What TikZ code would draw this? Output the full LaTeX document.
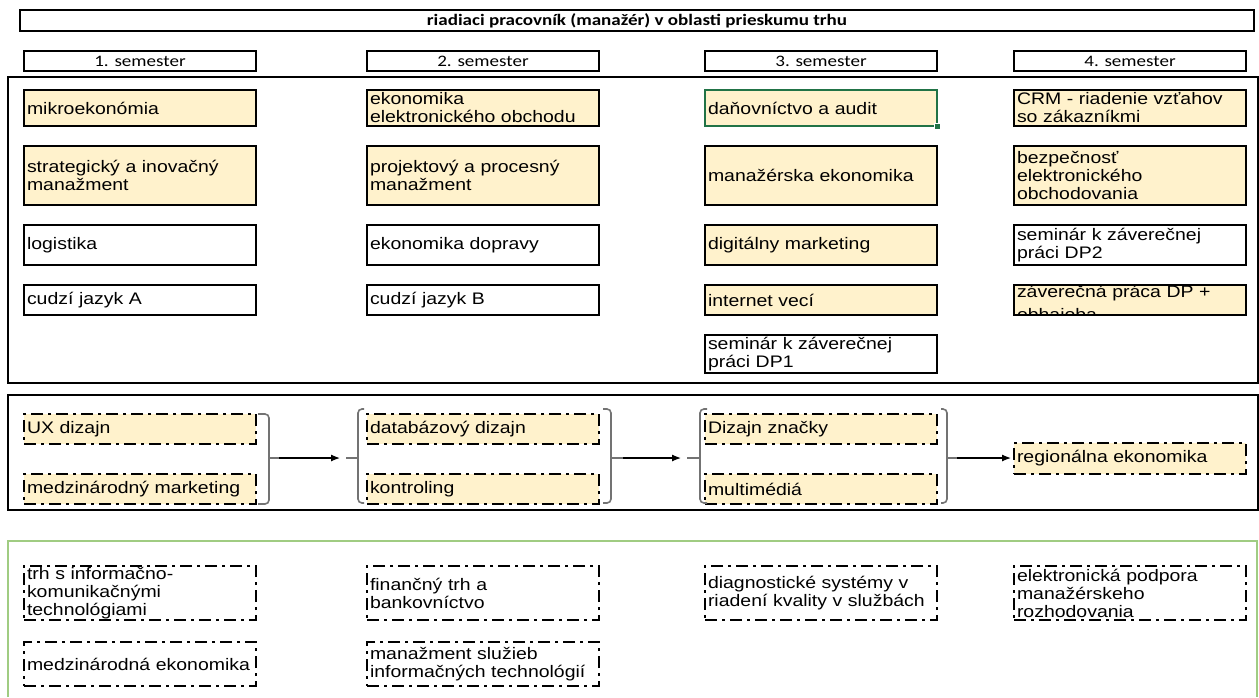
\documentclass[tikz,border=0pt]{standalone}
\usepackage{fontspec}
\setmainfont{Liberation Sans}[FakeStretch=1.165]
\newfontfamily\calibri{Carlito}[FakeStretch=1.19]
\usepackage{tikz}
\usepackage{xcolor}
\usetikzlibrary{positioning,arrows.meta}
\definecolor{bunka}{RGB}{255,242,204}
\definecolor{zelena}{RGB}{160,204,130}
\definecolor{vyber}{RGB}{33,115,70}

\begin{document}
\begin{tikzpicture}[x=0.5pt, y=-0.5pt, node distance=10pt,
		predmet/.style={rectangle, draw, line width=0.7pt, fill=bunka, anchor=north west, outer sep=0pt, minimum width=116pt, text width=113pt, inner xsep=1.5pt, inner ysep=0pt, align=left, font=\fontsize{8.35}{9}\selectfont},
		prazdny/.style={predmet, fill=white},
		volitelny/.style={predmet, line width=1.2pt, dash pattern=on 6pt off 2.5pt on 1.5pt off 2.5pt},
		dalsi/.style={volitelny, fill=white},
		hlavicka/.style={rectangle, draw, line width=0.7pt, anchor=north west, outer sep=0pt, minimum width=116pt, minimum height=10pt, inner sep=0pt, font=\calibri\fontsize{8}{9}\selectfont},
		ramec/.style={draw, line width=0.8pt},
		zatvorka/.style={draw=black!55, line width=0.8pt, rounded corners=2pt},
		sipka/.style={-{Latex[length=4.5pt,width=3.5pt]}, line width=0.6pt}]
	\useasboundingbox[fill=white] (0,0) rectangle (1259,697);
	
	\node[hlavicka, minimum width=617pt, minimum height=10.5pt, font=\calibri\bfseries\fontsize{8}{9}\selectfont] (nazov) at (20,10) {riadiaci pracovník (manažér) v oblasti prieskumu trhu};
	\node[hlavicka] (sem1) at (24,51) {1. semester};
	\node[hlavicka] (sem2) at (367,51) {2. semester};
	\node[hlavicka] (sem3) at (705,51) {3. semester};
	\node[hlavicka] (sem4) at (1014,51) {4. semester};
	
	\draw[ramec] (8,77) rectangle (1258,383);
	\node[predmet, minimum height=18pt] (mikro) at (24,90) {mikroekonómia};
	\node[predmet, minimum height=29.5pt, below=of mikro] (strat) {strategický a inovačný\\manažment};
	\node[prazdny, minimum height=20pt, below=of strat] (logist) {logistika};
	\node[prazdny, minimum height=15pt, below=of logist] (jazykA) {cudzí jazyk A};
	
	\node[predmet, minimum height=18pt] (ekeo) at (367,90) {ekonomika\\elektronického obchodu};
	\node[predmet, minimum height=29.5pt, below=of ekeo] (proj) {projektový a procesný\\manažment};
	\node[prazdny, minimum height=20pt, below=of proj] (doprava) {ekonomika dopravy};
	\node[prazdny, minimum height=15pt, below=of doprava] (jazykB) {cudzí jazyk B};
	
	\node[predmet, minimum height=18pt, draw=vyber, line width=1.1pt] (dane) at (705,90) {daňovníctvo a audit};
	\fill[vyber, draw=white, line width=0.3pt] ([shift={(-1.5pt,1.5pt)}]dane.south east) rectangle ([shift={(1.8pt,-1.8pt)}]dane.south east);
	\node[predmet, minimum height=29.5pt, below=of dane] (manek) {manažérska ekonomika};
	\node[predmet, minimum height=20pt, below=of manek] (digmark) {digitálny marketing};
	\node[predmet, minimum height=15pt, below=of digmark] (iot) {internet vecí};
	\node[prazdny, minimum height=19pt, below=of iot] (semdp1) {seminár k záverečnej\\práci DP1};
	
	\node[predmet, minimum height=18pt] (crm) at (1014,90) {CRM - riadenie vzťahov\\so zákazníkmi};
	\node[predmet, minimum height=29.5pt, below=of crm] (bezp) {bezpečnosť\\elektronického\\obchodovania};
	\node[prazdny, minimum height=20pt, below=of bezp] (semdp2) {seminár k záverečnej\\práci DP2};
	\begin{scope}
		\clip (1012,284) rectangle (1248,315.5);
		\node[predmet, draw=none, minimum height=15pt, below=of semdp2] (zdp) {\vspace*{2.5pt}záverečná práca DP +\\obhajoba};
	\end{scope}
	\draw[line width=0.7pt] (zdp.north west) rectangle ([yshift=-15pt]zdp.north east);
	
	\draw[ramec] (8,395) rectangle (1258,510);
	\node[volitelny, minimum height=15pt] (ux) at (24,414) {UX dizajn};
	\node[volitelny, minimum height=15pt, below=15pt of ux] (mm) {medzinárodný marketing};
	\node[volitelny, minimum height=15pt] (db) at (367,414) {databázový dizajn};
	\node[volitelny, minimum height=15pt, below=15pt of db] (kontr) {kontroling};
	\node[volitelny, minimum height=15pt] (znacka) at (705,414) {Dizajn značky};
	\node[volitelny, minimum height=15pt, below=15pt of znacka] (multi) {multimédiá};
	\node[volitelny, minimum height=15.5pt] (reg) at (1014,443) {regionálna ekonomika};
	
	\draw[zatvorka] (258,414) -| (269,504) -- (258,504);
	\draw[zatvorka] (269,458) -- (279,458);
	\draw[zatvorka] (364,409) -| (358,503) -- (364,503);
	\draw[zatvorka] (346,458) -- (358,458);
	\draw[zatvorka] (603,409) -| (611,503) -- (603,503);
	\draw[zatvorka] (611,458) -- (623,458);
	\draw[zatvorka] (707,409) -| (700,503) -- (707,503);
	\draw[zatvorka] (687,458) -- (700,458);
	\draw[zatvorka] (941,409) -| (947,503) -- (941,503);
	\draw[zatvorka] (947,458) -- (957,458);
	
	\coordinate (z1) at (279,458);
	\coordinate (k1) at (340,458);
	\coordinate (z2) at (623,458);
	\coordinate (k2) at (681,458);
	\coordinate (z3) at (957,458);
	\draw[sipka] (z1) -- (k1);
	\draw[sipka] (z2) -- (k2);
	\draw[sipka, shorten >=1.5pt] (z3) -- (z3 -| reg.west);
	
	\draw[zelena, line width=0.8pt] (8,697) -- (8,541) -- (1257,541) -- (1257,697);
	\node[dalsi, minimum height=27pt] (trh) at (24,566) {trh s informačno-\\komunikačnými\\technológiami};
	\node[dalsi, minimum height=22pt, below=11pt of trh] (medzek) {medzinárodná ekonomika};
	\node[dalsi, minimum height=27pt] (fin) at (367,566) {finančný trh a\\bankovníctvo};
	\node[dalsi, minimum height=22pt, below=11pt of fin] (sluzby) {manažment služieb\\informačných technológií};
	\node[dalsi, minimum height=27pt] (diag) at (705,566) {diagnostické systémy v\\riadení kvality v službách};
	\node[dalsi, minimum height=27pt] (podpora) at (1014,566) {elektronická podpora\\manažérskeho\\rozhodovania};
\end{tikzpicture}
\end{document}
